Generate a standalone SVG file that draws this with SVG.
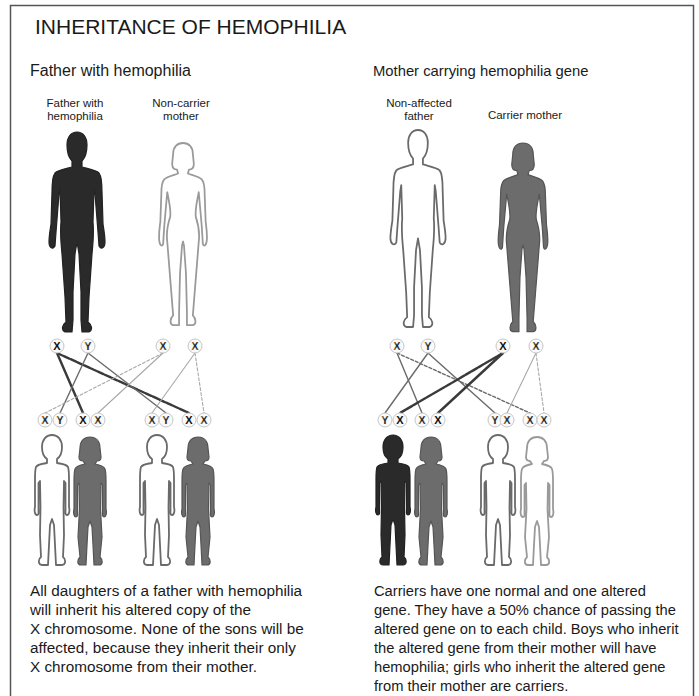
<svg xmlns="http://www.w3.org/2000/svg" width="699" height="696" viewBox="0 0 699 696">
  <defs>
    <linearGradient id="chromo" x1="0" y1="0" x2="1" y2="0">
      <stop offset="0" stop-color="#d98a3a"/>
      <stop offset="0.4" stop-color="#2a2a2a"/>
      <stop offset="0.6" stop-color="#2a2a2a"/>
      <stop offset="1" stop-color="#3f73c0"/>
    </linearGradient>
    <!-- silhouettes, origin at top of head, centred on x=0 -->
    <path id="man" d="M0,0 C6,0 10,5 10,13 C10,21 8,26 5,29 L5,35 C12,37 19,38 22,41 C25,45 25,52 25,60 L26,92 C27,99 28,104 28,110 C28,116 24,118 22,114 L21,100 L18,62 L17,56 L16,90 C17,100 16,112 15,122 L12,165 L11,190 C15,193 16,198 12,200 L5,200 L4,188 L4,160 L2,122 L0,110 L-2,122 L-4,160 L-4,188 L-5,200 L-12,200 C-16,198 -15,193 -11,190 L-12,165 L-15,122 C-16,112 -17,100 -16,90 L-17,56 L-18,62 L-21,100 L-22,114 C-24,118 -28,116 -28,110 C-28,104 -27,99 -26,92 L-25,60 C-25,52 -25,45 -22,41 C-19,38 -12,37 -5,35 L-5,29 C-8,26 -10,21 -10,13 C-10,5 -6,0 0,0 Z"/>
    <path id="woman" d="M0,0 C6,0 10,4 10,11 L11,21 C11,25 9,27 6,27 L5,31 C10,33 16,34 19,37 C22,40 22,46 22,52 L23,80 C24,88 25,94 24,100 C23,105 20,106 20,100 L19,84 L16,50 C14,60 12,68 13,75 C16,84 17,92 16,100 L12,150 L10,175 C13,178 14,184 10,185 L4,185 L4,172 L3,132 L1,104 L0,100 L-1,104 L-3,132 L-4,172 L-4,185 L-10,185 C-14,184 -13,178 -10,175 L-12,150 L-16,100 C-17,92 -16,84 -13,75 C-12,68 -14,60 -16,50 L-19,84 L-20,100 C-20,106 -23,105 -24,100 C-25,94 -24,88 -23,80 L-22,52 C-22,46 -22,40 -19,37 C-16,34 -10,33 -5,31 L-6,27 C-9,27 -11,25 -11,21 L-10,11 C-10,4 -6,0 0,0 Z"/>
    <path id="boy" d="M0,0 C6,0 10,5 10,12 C10,18 8,22 5,24 L5,28 C10,29 14,29 16,32 C17,35 17,39 17,44 L17,72 C18,76 17,80 15,80 C13,80 13.5,77 13.5,75 L13.5,48 L12,46 L11.5,72 L12,100 L11,122 C14,124 14,130 10,130 L4,130 L3,110 L2,90 L0,84 L-2,90 L-3,110 L-4,130 L-10,130 C-14,130 -14,124 -11,122 L-12,100 L-11.5,72 L-12,46 L-13.5,48 L-13.5,75 C-13.5,77 -13,80 -15,80 C-17,80 -18,76 -17,72 L-17,44 C-17,39 -17,35 -16,32 C-14,29 -10,29 -5,28 L-5,24 C-8,22 -10,18 -10,12 C-10,5 -6,0 0,0 Z"/>
    <path id="girl" d="M0,0 C6,0 10,4 10,11 L11,20 C11,23 9,24 7,24 L5,27 C10,28 14,29 15,32 C16,35 16,39 16,44 L16,72 C17,76 16,80 14,80 C12,80 12.5,77 12.5,75 L12.5,48 L11,46 L10.5,72 L12,100 L10,120 C13,123 13,128 9,128 L4,128 L3,108 L2,90 L0,84 L-2,90 L-3,108 L-4,128 L-9,128 C-13,128 -13,123 -10,120 L-12,100 L-10.5,72 L-11,46 L-12.5,48 L-12.5,75 C-12.5,77 -12,80 -14,80 C-16,80 -17,76 -16,72 L-16,44 C-16,39 -16,35 -15,32 C-14,29 -10,28 -5,27 L-7,24 C-9,24 -11,23 -11,20 L-10,11 C-10,4 -6,0 0,0 Z"/>
  </defs>
  <style>
    .title { font-family: "Liberation Sans", Arial, sans-serif; font-size: 21px; fill: #1a1a1a; }
    .head { font-family: "Liberation Sans", Arial, sans-serif; font-size: 16px; fill: #1a1a1a; }
    .head.r { font-size: 14.8px; }
    .lab { font-family: "Liberation Sans", Arial, sans-serif; font-size: 11.5px; fill: #1a1a1a; text-anchor: middle; }
    .body { font-family: "Liberation Sans", Arial, sans-serif; font-size: 15.3px; fill: #1a1a1a; }
    .body.r { font-size: 14.7px; }
    .dark { fill: #2a2a2a; stroke: #222; stroke-width: 1.2; stroke-linejoin: round; }
    .grey { fill: #6c6c6c; stroke: #555; stroke-width: 1.2; stroke-linejoin: round; }
    .open { fill: #fff; stroke: #6a6a6a; stroke-width: 1.8; stroke-linejoin: round; }
    .open.light { stroke: #9a9a9a; }
    .cell { fill: #fafafa; stroke: #c6c6c6; stroke-width: 1; }
    .chr { font-family: "Liberation Sans", Arial, sans-serif; font-size: 11px; font-weight: bold; text-anchor: middle; fill: url(#chromo); }
    .chr.alt { fill: #111; }
    .thick { stroke: #3a3a3a; stroke-width: 2.4; }
    .mid { stroke: #6a6a6a; stroke-width: 1.4; }
    .thin { stroke: #a8a8a8; stroke-width: 1.1; }
    .dash { stroke-dasharray: 3 2; }
  </style>

  <rect x="10.5" y="5.5" width="683" height="700" fill="#fff" stroke="#555" stroke-width="1.5"/>

  <text class="title" x="35" y="34">INHERITANCE OF HEMOPHILIA</text>
  <text class="head" x="30" y="76">Father with hemophilia</text>
  <text class="head r" x="373" y="76">Mother carrying hemophilia gene</text>

  <!-- connectors: which parental chromosome each child receives -->
  <g id="connectors" fill="none" stroke-linecap="round">
    <line class="thick" x1="57" y1="353" x2="83" y2="413"/>
    <line class="thick dash" x1="57" y1="353" x2="189" y2="413" style="stroke-dasharray:6 1.5"/>
    <line class="mid" x1="88" y1="353" x2="60" y2="413"/>
    <line class="mid" x1="88" y1="353" x2="166" y2="413"/>
    <line class="thin dash" x1="163" y1="353" x2="45" y2="413"/>
    <line class="thin" x1="163" y1="353" x2="98" y2="413"/>
    <line class="thin" x1="195" y1="353" x2="152" y2="413"/>
    <line class="thin dash" x1="195" y1="353" x2="204" y2="413"/>

    <line class="mid" x1="397" y1="353" x2="422" y2="413"/>
    <line class="mid dash" x1="397" y1="353" x2="530" y2="413"/>
    <line class="mid" x1="428" y1="353" x2="385" y2="413"/>
    <line class="mid" x1="428" y1="353" x2="495" y2="413"/>
    <line class="thick dash" x1="503" y1="353" x2="400" y2="413" style="stroke-dasharray:6 1.5"/>
    <line class="thick" x1="503" y1="353" x2="438" y2="413"/>
    <line class="thin" x1="536" y1="353" x2="507" y2="413"/>
    <line class="thin dash" x1="536" y1="353" x2="544" y2="413"/>
  </g>

  <!-- left family: affected father, non-carrier mother -->
  <g id="father-affected">
    <text class="lab" x="75" y="107">Father with</text>
    <text class="lab" x="75" y="120">hemophilia</text>
    <use href="#man" class="dark" transform="translate(77,132)"/>
    <circle class="cell" cx="57" cy="346" r="7"/><text class="chr alt" x="57" y="350">X</text>
    <circle class="cell" cx="88" cy="346" r="7"/><text class="chr" x="88" y="350">Y</text>
  </g>
  <g id="mother-noncarrier">
    <text class="lab" x="181" y="107">Non-carrier</text>
    <text class="lab" x="181" y="120">mother</text>
    <use href="#woman" class="open light" transform="translate(183,143) scale(0.985)"/>
    <circle class="cell" cx="163" cy="346" r="7"/><text class="chr" x="163" y="350">X</text>
    <circle class="cell" cx="195" cy="346" r="7"/><text class="chr" x="195" y="350">X</text>
  </g>
  <g id="left-son-1">
    <circle class="cell" cx="45" cy="420" r="7"/><text class="chr" x="45" y="424">X</text>
    <circle class="cell" cx="60" cy="420" r="7"/><text class="chr" x="60" y="424">Y</text>
    <use href="#boy" class="open" transform="translate(52,435)"/>
  </g>
  <g id="left-daughter-1">
    <circle class="cell" cx="83" cy="420" r="7"/><text class="chr alt" x="83" y="424">X</text>
    <circle class="cell" cx="98" cy="420" r="7"/><text class="chr" x="98" y="424">X</text>
    <use href="#girl" class="grey" transform="translate(90,437)"/>
  </g>
  <g id="left-son-2">
    <circle class="cell" cx="152" cy="420" r="7"/><text class="chr" x="152" y="424">X</text>
    <circle class="cell" cx="166" cy="420" r="7"/><text class="chr" x="166" y="424">Y</text>
    <use href="#boy" class="open" transform="translate(157,435)"/>
  </g>
  <g id="left-daughter-2">
    <circle class="cell" cx="189" cy="420" r="7"/><text class="chr alt" x="189" y="424">X</text>
    <circle class="cell" cx="204" cy="420" r="7"/><text class="chr" x="204" y="424">X</text>
    <use href="#girl" class="grey" transform="translate(198,437)"/>
  </g>

  <!-- right family: unaffected father, carrier mother -->
  <g id="father-unaffected">
    <text class="lab" x="419" y="107">Non-affected</text>
    <text class="lab" x="419" y="120">father</text>
    <use href="#man" class="open" transform="translate(418,130) scale(0.985)"/>
    <circle class="cell" cx="397" cy="346" r="7"/><text class="chr" x="397" y="350">X</text>
    <circle class="cell" cx="428" cy="346" r="7"/><text class="chr" x="428" y="350">Y</text>
  </g>
  <g id="mother-carrier">
    <text class="lab" x="525" y="119">Carrier mother</text>
    <use href="#woman" class="grey" transform="translate(523,143) scale(1.02)"/>
    <circle class="cell" cx="503" cy="346" r="7"/><text class="chr alt" x="503" y="350">X</text>
    <circle class="cell" cx="536" cy="346" r="7"/><text class="chr" x="536" y="350">X</text>
  </g>
  <g id="right-son-1">
    <circle class="cell" cx="385" cy="420" r="7"/><text class="chr" x="385" y="424">Y</text>
    <circle class="cell" cx="400" cy="420" r="7"/><text class="chr alt" x="400" y="424">X</text>
    <use href="#boy" class="dark" transform="translate(393,435)"/>
  </g>
  <g id="right-daughter-1">
    <circle class="cell" cx="422" cy="420" r="7"/><text class="chr" x="422" y="424">X</text>
    <circle class="cell" cx="438" cy="420" r="7"/><text class="chr alt" x="438" y="424">X</text>
    <use href="#girl" class="grey" transform="translate(431,437)"/>
  </g>
  <g id="right-son-2">
    <circle class="cell" cx="495" cy="420" r="7"/><text class="chr" x="495" y="424">Y</text>
    <circle class="cell" cx="507" cy="420" r="7"/><text class="chr" x="507" y="424">X</text>
    <use href="#boy" class="open" transform="translate(498,435)"/>
  </g>
  <g id="right-daughter-2">
    <circle class="cell" cx="530" cy="420" r="7"/><text class="chr" x="530" y="424">X</text>
    <circle class="cell" cx="544" cy="420" r="7"/><text class="chr" x="544" y="424">X</text>
    <use href="#girl" class="open light" transform="translate(537,437)"/>
  </g>

  <!-- captions -->
  <g id="caption-left" class="body">
    <text x="30" y="596">All daughters of a father with hemophilia</text>
    <text x="30" y="615">will inherit his altered copy of the</text>
    <text x="30" y="634">X chromosome. None of the sons will be</text>
    <text x="30" y="653">affected, because they inherit their only</text>
    <text x="30" y="672">X chromosome from their mother.</text>
  </g>
  <g id="caption-right" class="body r">
    <text x="374" y="596">Carriers have one normal and one altered</text>
    <text x="374" y="615">gene. They have a 50% chance of passing the</text>
    <text x="374" y="634">altered gene on to each child. Boys who inherit</text>
    <text x="374" y="653">the altered gene from their mother will have</text>
    <text x="374" y="672">hemophilia; girls who inherit the altered gene</text>
    <text x="374" y="691">from their mother are carriers.</text>
  </g>
</svg>
